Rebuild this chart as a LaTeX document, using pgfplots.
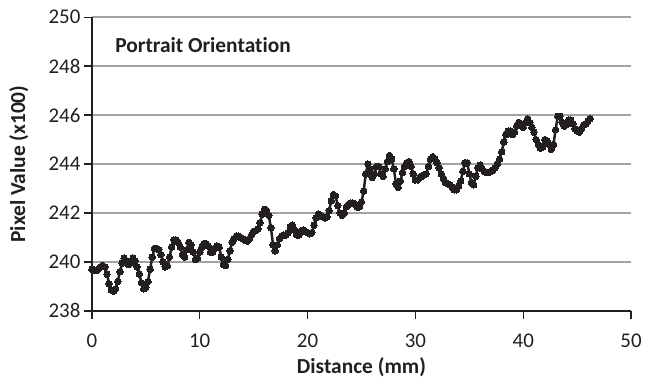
\documentclass[border=0pt]{standalone}
\usepackage{pgfplots}
\pgfplotsset{compat=1.18}
\usepackage{fontspec}
\setmainfont{Carlito}[Ligatures=NoCommon]
\definecolor{ink}{HTML}{231F20}
\definecolor{gridgray}{HTML}{A3A3A3}
\begin{document}
\begin{tikzpicture}
\begin{axis}[
  name=ax,
  at={(0pt,0pt)}, anchor=south west,
  scale only axis,
  width=541.7pt, height=295pt,
  xmin=0, xmax=50, ymin=238, ymax=250,
  xtick={0,10,...,50}, ytick={238,240,...,250},
  axis x line*=bottom, axis y line*=left,
  axis line style={ink, line width=1.4pt, -},
  tick style={ink, line width=1.4pt},
  major tick length=8pt,
  tick align=outside,
  ymajorgrids,
  grid style={gridgray, line width=1.5pt},
  /pgf/number format/assume math mode=true,
  ticklabel style={font=\fontsize{21}{24}\selectfont, color=ink},
  xticklabel style={yshift=-12pt},
  yticklabel style={/pgf/number format/fixed, /pgf/number format/1000 sep={}},
  xlabel={Distance (mm)},
  ylabel={Pixel Value (x100)},
  label style={font=\bfseries\fontsize{21.5}{24}\selectfont, color=ink},
  xlabel style={at={(axis description cs:0.5,-0.212)}, anchor=base},
  ylabel style={at={(axis description cs:-0.1357,0.5)}, anchor=center, rotate=0},
  clip=false,
]
\addplot[ink, line width=2.5pt, mark=*, mark size=3.3pt, mark options={fill=ink, draw=ink, line width=0pt}] coordinates {
(0.0,239.7) (0.2,239.65) (0.4,239.65) (0.6,239.7) (0.8,239.8) (1.0,239.85) (1.2,239.8) (1.4,239.5) (1.6,239.1) (1.8,238.85)
(2.0,238.8) (2.2,238.9) (2.4,239.2) (2.6,239.6) (2.8,239.95) (3.0,240.15) (3.2,240.05) (3.4,239.9) (3.6,239.95) (3.8,240.15)
(4.0,240.05) (4.2,239.8) (4.4,239.5) (4.6,239.15) (4.8,238.9) (5.0,238.95) (5.2,239.2) (5.4,239.7) (5.6,240.2) (5.8,240.55)
(6.0,240.55) (6.2,240.5) (6.4,240.3) (6.6,240.0) (6.8,239.8) (7.0,239.85) (7.2,240.2) (7.4,240.6) (7.6,240.9) (7.8,240.9)
(8.0,240.8) (8.2,240.6) (8.4,240.3) (8.6,240.2) (8.8,240.5) (9.0,240.8) (9.2,240.7) (9.4,240.4) (9.6,240.1) (9.8,240.15)
(10.0,240.4) (10.2,240.6) (10.4,240.75) (10.6,240.75) (10.8,240.65) (11.0,240.4) (11.2,240.4) (11.4,240.55) (11.6,240.65) (11.8,240.6)
(12.0,240.2) (12.2,239.9) (12.4,239.85) (12.6,240.1) (12.8,240.45) (13.0,240.8) (13.2,240.95) (13.4,241.05) (13.6,241.05) (13.8,241.0)
(14.0,240.95) (14.2,240.88) (14.4,240.85) (14.6,240.95) (14.8,241.1) (15.0,241.25) (15.2,241.28) (15.4,241.35) (15.6,241.6) (15.8,241.95)
(16.0,242.15) (16.2,242.1) (16.4,241.9) (16.6,241.4) (16.8,240.7) (17.0,240.45) (17.2,240.7) (17.4,240.95) (17.6,241.05) (17.8,241.1)
(18.0,241.1) (18.2,241.2) (18.4,241.45) (18.6,241.5) (18.8,241.3) (19.0,241.1) (19.2,241.1) (19.4,241.25) (19.6,241.3) (19.8,241.25)
(20.0,241.2) (20.2,241.15) (20.4,241.2) (20.6,241.5) (20.8,241.8) (21.0,241.95) (21.2,241.9) (21.4,241.85) (21.6,241.8) (21.8,241.85)
(22.0,242.1) (22.2,242.5) (22.4,242.75) (22.6,242.7) (22.8,242.3) (23.0,242.0) (23.2,241.9) (23.4,242.0) (23.6,242.25) (23.8,242.35)
(24.0,242.4) (24.2,242.4) (24.4,242.35) (24.6,242.25) (24.8,242.25) (25.0,242.45) (25.2,242.9) (25.4,243.6) (25.6,244.0) (25.8,243.8)
(26.0,243.45) (26.2,243.6) (26.4,243.9) (26.6,243.9) (26.8,243.6) (27.0,243.5) (27.2,243.8) (27.4,244.1) (27.6,244.35) (27.8,244.2)
(28.0,243.8) (28.2,243.2) (28.4,243.05) (28.6,243.3) (28.8,243.65) (29.0,243.9) (29.2,244.05) (29.4,244.1) (29.6,243.9) (29.8,243.6)
(30.0,243.35) (30.2,243.35) (30.4,243.45) (30.6,243.5) (30.8,243.55) (31.0,243.6) (31.2,243.9) (31.4,244.2) (31.6,244.3) (31.8,244.2)
(32.0,244.05) (32.2,243.85) (32.4,243.6) (32.6,243.4) (32.8,243.25) (33.0,243.2) (33.2,243.15) (33.4,243.05) (33.6,242.95) (33.8,242.95)
(34.0,243.1) (34.2,243.3) (34.4,243.7) (34.6,244.05) (34.8,244.05) (35.0,243.6) (35.2,243.25) (35.4,243.15) (35.6,243.5) (35.8,243.85)
(36.0,243.95) (36.2,243.8) (36.4,243.7) (36.6,243.65) (36.8,243.65) (37.0,243.7) (37.2,243.75) (37.4,243.85) (37.6,244.0) (37.8,244.2)
(38.0,244.5) (38.2,244.9) (38.4,245.2) (38.6,245.35) (38.8,245.35) (39.0,245.2) (39.2,245.3) (39.4,245.55) (39.6,245.7) (39.8,245.6)
(40.0,245.5) (40.2,245.7) (40.4,245.85) (40.6,245.7) (40.8,245.5) (41.0,245.3) (41.2,245.0) (41.4,244.8) (41.6,244.65) (41.8,244.7)
(42.0,245.0) (42.2,244.95) (42.4,244.8) (42.6,244.6) (42.8,244.8) (43.0,245.4) (43.2,245.95) (43.4,245.95) (43.6,245.7) (43.8,245.55)
(44.0,245.6) (44.2,245.8) (44.4,245.8) (44.6,245.65) (44.8,245.45) (45.0,245.35) (45.2,245.3) (45.4,245.45) (45.6,245.6) (45.8,245.65)
(46.0,245.75) (46.2,245.85)
};
\node[anchor=base west, inner sep=0pt, font=\bfseries\fontsize{21.5}{24}\selectfont, color=ink] at (axis cs:2.16,248.576) {Portrait Orientation};
\end{axis}
% page frame: plot area with the margins taken by the tick labels and titles
\path (-92.3pt,-64.7pt) rectangle (552.7pt,312.3pt);
\end{tikzpicture}
\end{document}
